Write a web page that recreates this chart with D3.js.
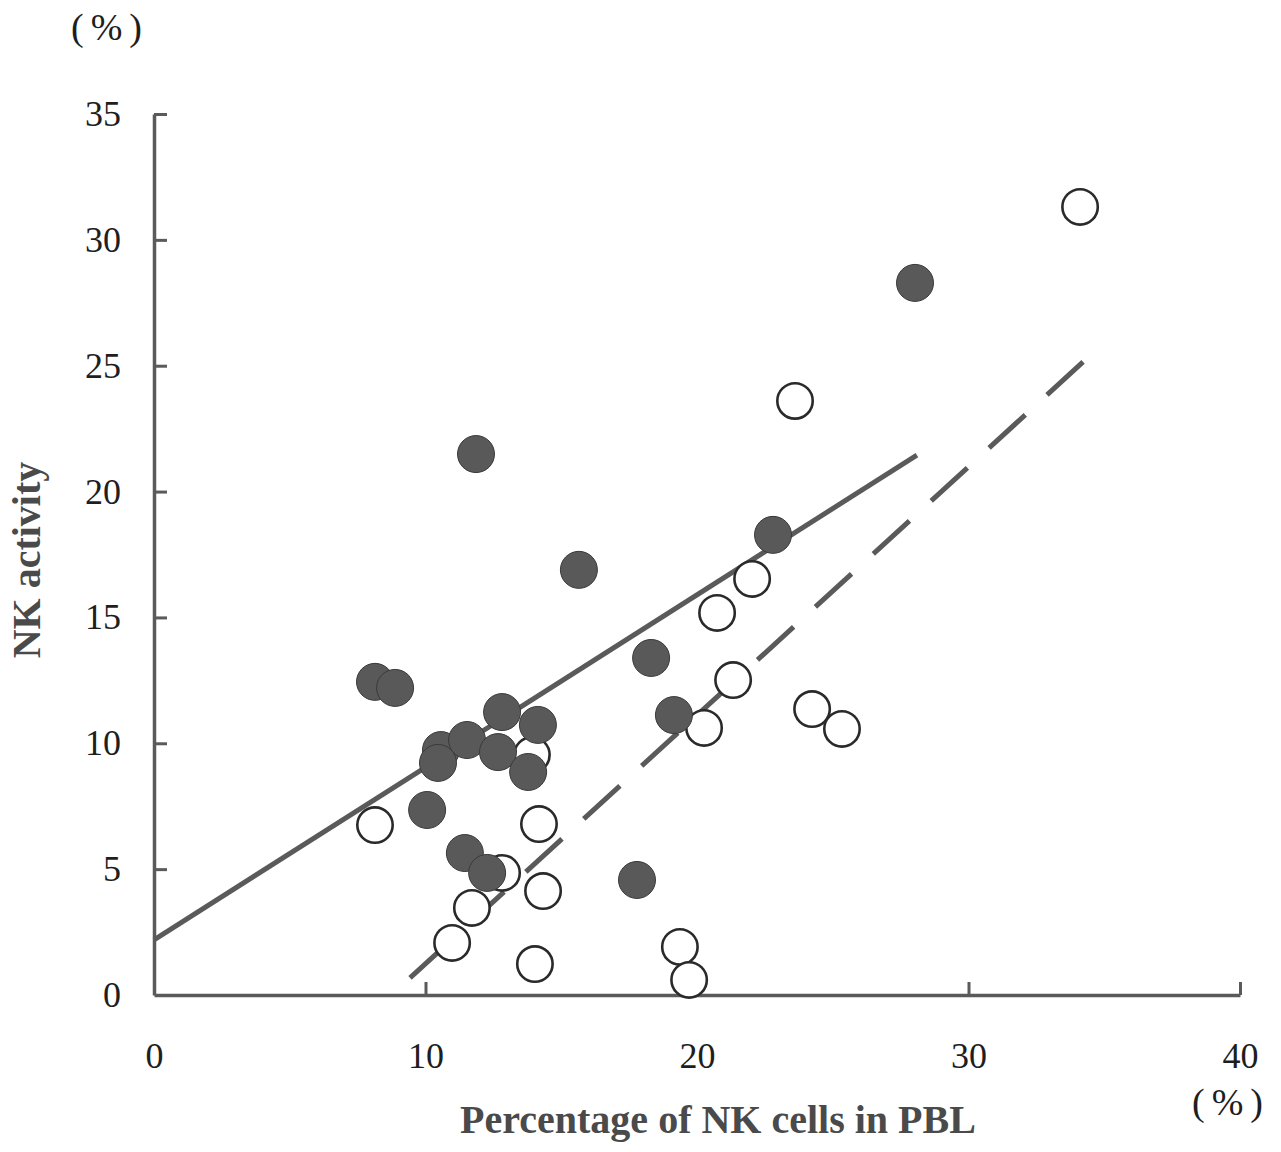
<!DOCTYPE html>
<head>
<meta charset="utf-8">
<script src="https://d3js.org/d3.v7.min.js"></script>
<style>
body { margin: 0; background: #fff; }
text { font-family: "Liberation Serif", "Times New Roman", serif; }
</style>
</head>
<body>
<svg id="chart"></svg>
<script>

// data: x = % NK cells in PBL, y = NK activity (%)
var filledX = [28.03, 11.86, 15.65, 22.80, 18.31, 19.15, 8.14, 8.88, 12.82, 14.14,
               10.57, 10.46, 11.53, 12.67, 13.78, 10.06, 11.45, 12.27, 17.79];
var filledY = [28.29, 21.49, 16.89, 18.28, 13.39, 11.12, 12.44, 12.20, 11.24, 10.73,
               9.73, 9.22, 10.13, 9.65, 8.86, 7.35, 5.64, 4.85, 4.57];

var openX = [34.11, 23.61, 22.03, 20.74, 21.33, 24.24, 25.34, 20.26, 13.92, 8.14,
             14.18, 12.82, 14.33, 11.71, 10.98, 14.03, 19.37, 19.71];
var openY = [31.31, 23.60, 16.53, 15.18, 12.51, 11.36, 10.57, 10.61, 9.54, 6.75,
             6.79, 4.85, 4.13, 3.46, 2.07, 1.23, 1.91, 0.60];

// regression lines (end points)
var solidLineX = [0, 28.1];
var solidLineY = [2.19, 21.45];
var dashLineX = [9.43, 34.22];
var dashLineY = [0.68, 25.15];

var xTicks = [0, 10, 20, 30, 40];
var yTicks = [0, 5, 10, 15, 20, 25, 30, 35];

var width = 1281, height = 1152;

var svg = d3.select("#chart")
    .attr("width", width)
    .attr("height", height);

var x = d3.scaleLinear().domain([0, 40]).range([154, 1240]);
var y = d3.scaleLinear().domain([0, 35]).range([995, 114]);

var axisColor = "#5a5a5a";

// x axis, ticks point up into the plot
var xAxis = svg.append("g")
    .attr("transform", "translate(0," + y(0) + ")")
    .call(d3.axisBottom(x).tickValues(xTicks).tickSizeInner(-13).tickSizeOuter(0).tickPadding(47));

// y axis, ticks point right
var yAxis = svg.append("g")
    .attr("transform", "translate(" + x(0) + ",0)")
    .call(d3.axisLeft(y).tickValues(yTicks).tickSizeInner(-13).tickSizeOuter(0).tickPadding(33));

[xAxis, yAxis].forEach(function(g) {
  g.select(".domain").attr("stroke", axisColor).attr("stroke-width", 3.5);
  g.selectAll(".tick line").attr("stroke", axisColor).attr("stroke-width", 3);
  g.selectAll(".tick text")
    .attr("fill", "#1e1e1e")
    .style("font-family", "'Liberation Serif', serif")
    .style("font-size", "36px");
});
// no tick mark at the origin
xAxis.selectAll(".tick").filter(function(d) { return d === 0; }).select("line").remove();
yAxis.selectAll(".tick").filter(function(d) { return d === 0; }).select("line").remove();

// regression lines
var line = d3.line().x(function(d) { return x(d[0]); }).y(function(d) { return y(d[1]); });

svg.append("path")
    .attr("d", line(d3.zip(solidLineX, solidLineY)))
    .attr("fill", "none")
    .attr("stroke", "#5a5a5a")
    .attr("stroke-width", 5);

svg.append("path")
    .attr("d", line(d3.zip(dashLineX, dashLineY)))
    .attr("fill", "none")
    .attr("stroke", "#5a5a5a")
    .attr("stroke-width", 5)
    .attr("stroke-dasharray", "49,29.5");

// open circles
svg.append("g").selectAll("circle")
    .data(d3.zip(openX, openY))
    .join("circle")
    .attr("cx", function(d) { return x(d[0]); })
    .attr("cy", function(d) { return y(d[1]); })
    .attr("r", 17.7)
    .attr("fill", "#fff")
    .attr("stroke", "#2a2a2a")
    .attr("stroke-width", 2.6);

// filled circles
svg.append("g").selectAll("circle")
    .data(d3.zip(filledX, filledY))
    .join("circle")
    .attr("cx", function(d) { return x(d[0]); })
    .attr("cy", function(d) { return y(d[1]); })
    .attr("r", 18.5)
    .attr("fill", "#595959")
    .attr("stroke", "#3a3a3a")
    .attr("stroke-width", 1);

// unit labels
svg.append("text")
    .attr("x", 110).attr("y", 40)
    .attr("text-anchor", "middle")
    .attr("fill", "#1e1e1e")
    .style("font-size", "38px")
    .style("letter-spacing", "7px")
    .text("(%)");

svg.append("text")
    .attr("x", 1231).attr("y", 1115)
    .attr("text-anchor", "middle")
    .attr("fill", "#1e1e1e")
    .style("font-size", "38px")
    .style("letter-spacing", "7px")
    .text("(%)");

// axis titles
svg.append("text")
    .attr("x", 718).attr("y", 1133)
    .attr("text-anchor", "middle")
    .attr("fill", "#4a4a4a")
    .style("font-size", "40px")
    .style("font-weight", "bold")
    .text("Percentage of NK cells in PBL");

svg.append("text")
    .attr("transform", "translate(40,560) rotate(-90)")
    .attr("text-anchor", "middle")
    .attr("fill", "#4a4a4a")
    .style("font-size", "40px")
    .style("font-weight", "bold")
    .text("NK activity");

</script>
</body>
